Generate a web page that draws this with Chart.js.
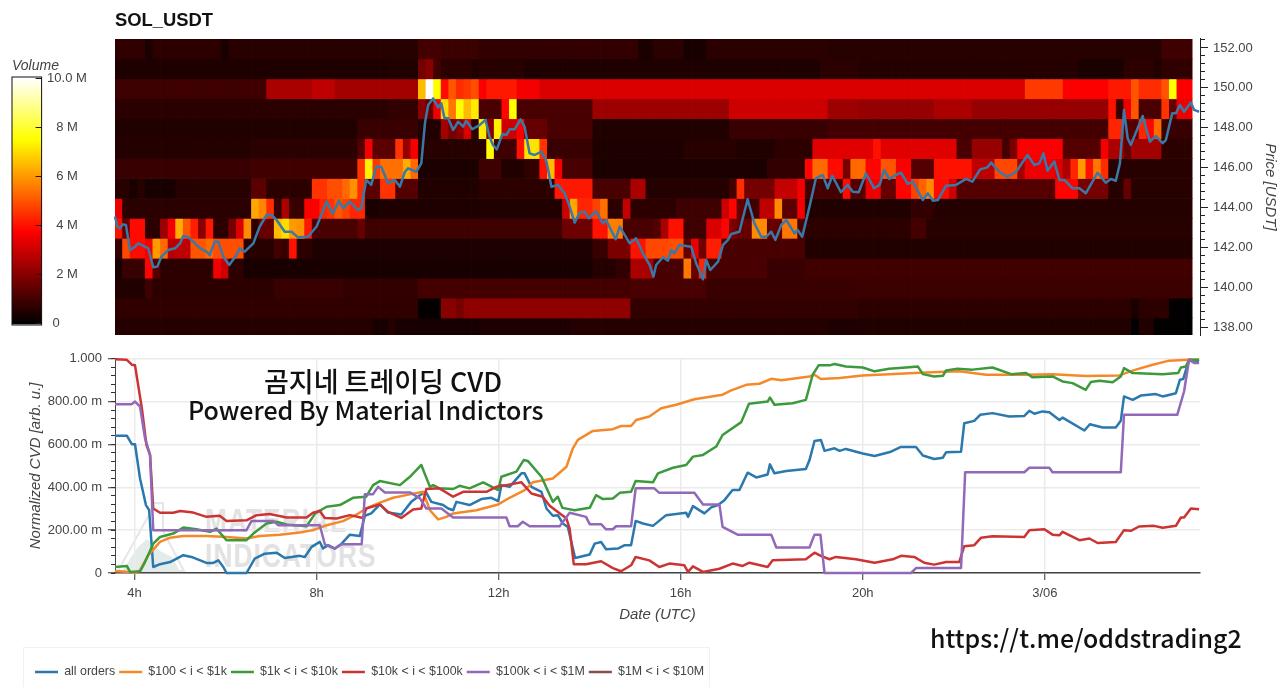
<!DOCTYPE html>
<html><head><meta charset="utf-8">
<style>
html,body{margin:0;padding:0;background:#fff;width:1280px;height:687px;overflow:hidden}
canvas{position:absolute;left:0}
.t{position:absolute;white-space:nowrap;font-family:"Noto Sans CJK KR","Noto Sans",sans-serif;color:#111;font-weight:500;line-height:1}
.wm{position:absolute;white-space:nowrap;font-family:"Liberation Sans",sans-serif;font-weight:700;color:#e2e2e2;line-height:1;letter-spacing:1.5px;transform:scaleX(.79);transform-origin:left top}
#legendBox{position:absolute;left:23px;top:647px;width:685px;height:60px;border:1px solid #f1f1f1}
</style>
<script src="https://cdn.jsdelivr.net/npm/chart.js@4"></script>
</head><body>
<svg style="position:absolute;left:110px;top:495px" width="90" height="80">
<path d="M42 8 L53 8 L53 36 L74 76 L8 76 L40 18 Z" fill="none" stroke="#e6e6e6" stroke-width="2"/>
<path d="M12 76 L28 52 L37 44 L50 56 L62 62 L70 76 Z" fill="#e4ecea"/>
</svg>
<div class="wm" style="left:205px;top:504px;font-size:33px">MATERIAL</div>
<div class="wm" style="left:205px;top:539px;font-size:33px">INDICATORS</div>
<div id="legendBox"></div>
<canvas id="heat" width="1280" height="345" style="top:0"></canvas>
<canvas id="bar" width="125" height="285" style="top:50px"></canvas>
<canvas id="cvd" width="1280" height="350" style="top:345px"></canvas>
<div class="t" style="left:264px;top:367px;font-size:27px">곰지네 트레이딩 CVD</div>
<div class="t" style="left:188px;top:397px;font-size:25px">Powered By Material Indictors</div>
<div class="t" style="left:930px;top:625px;font-size:24.9px">https://t.me/oddstrading2</div>
<script>
/* ---------- heat map: each row is [startColumn, volume in M, ...] runs of 10-minute bins ---------- */
const heat152=[0,.55,4,.2,5,.5,14,.15,15,.4,40,.9,43,.75,48,.6,69,.2,71,.45,75,.15,78,.45,94,.4,138,.8];
const heat151=[0,.25,36,.3,40,1.7,41,2,42,.9,43,.5,47,.3,48,.4,54,.25,93,.45,98,.35,127,.2,133,.5,137,.3,138,.55];
const heat150=[0,.8,20,2.5,26,2.8,29,2.4,40,6.5,41,10,42,7.5,43,3.9,44,5,45,4.4,46,4.6,47,4.9,48,3.7,49,4.1,53,3.6,56,3.2,120,4.6,125,3.7,131,4.1,134,5,135,4.4,138,5,139,7.5,140,3.7];
const heat149=[0,.45,36,.6,40,2,41,1.5,42,3.5,43,7,44,5.5,45,7.5,46,6.5,47,7.2,48,1,51,3.8,52,7.5,53,1,63,2.3,81,3,94,2.3,98,2.2,108,2.5,113,2.2,131,4,132,.7,133,3.5,134,5,135,1,138,4.5,139,1.5,140,3.5];
const heat148=[0,.3,32,.7,40,.3,43,2.4,44,1.7,45,2,46,3.2,47,.5,48,7.2,49,2,50,7.3,51,3,53,3.7,54,1.5,57,1,63,.3,81,.7,94,.9,131,4.3,133,1.2,135,4.3,136,3.8,137,5.3,138,.7];
const heat147=[0,.35,18,.45,32,1.2,33,3.6,34,1.3,37,4.5,38,2.2,39,3.6,40,.4,49,7.5,50,.8,53,4,54,7.1,56,4.5,57,.7,63,.25,75,.4,82,.3,87,.5,92,3.3,100,4,101,3.3,111,1,113,2.2,117,.9,118,1.8,119,3.7,125,1.2,130,3.6,131,2.5,133,1.5,134,2.4,138,.5];
const heat146=[0,.7,18,.85,32,4.5,33,7.3,34,4.6,35,5.4,38,6.3,39,5.3,40,.2,48,.8,51,.3,54,.6,56,4,57,6.5,58,3.6,59,1,63,.2,86,.6,91,3.8,92,5.3,94,3.9,96,1.8,97,5.3,99,3.8,101,5,103,3.7,105,1.2,108,4,113,2.8,116,4.8,119,2.4,120,3.5,124,3.2,125,2.5,126,4.3,127,6,128,4,129,5.5,130,4.4,131,.4];
const heat145=[0,.4,2,.15,3,.4,4,.15,8,.4,18,1.3,20,.5,26,4.5,28,4.9,30,5.3,31,5.9,32,4.4,33,1.3,35,4.5,37,1.2,40,.3,48,.5,58,4.1,63,1,68,2.5,70,.35,81,.9,82,4.4,83,1.7,87,2.9,90,3.6,91,.9,96,3.9,97,1.2,99,3.5,101,1.5,103,3.8,105,4.7,106,5.2,107,5.8,108,3.9,110,3,111,1.2,124,3.8,127,1.7,131,.4,133,1.5,134,.4];
const heat144=[0,3.5,1,.45,18,6.2,19,5.7,20,4.4,21,.7,22,2.5,23,.7,25,3.7,27,4.3,28,4.5,29,5,30,4.7,31,4.3,33,.2,35,.25,48,.3,59,3,60,6.2,61,4.3,63,4.7,64,5.4,65,.5,67,2.9,68,.5,74,.8,80,3,81,3.8,82,1.5,83,.8,85,2.8,87,5.8,88,1.3,90,3.6,91,.3,105,.6,108,.35];
const heat143=[0,4,1,1.5,2,3.9,4,.5,6,2.3,7,3.6,8,6.3,9,5,10,4.2,11,2,12,4.1,13,.5,15,1.7,16,3.2,17,5.8,18,.5,19,1.5,21,6.5,22,7,23,6,24,5.9,25,4.1,26,1,32,1.5,33,.8,59,1.6,63,4,65,5.6,67,1,71,1.2,72,2.5,73,4,75,.8,78,3.2,80,3.8,81,1.8,82,1.5,84,5.8,86,1.5,88,5.5,90,1,91,.5,105,.9,107,.4];
const heat142=[0,.6,1,4.8,2,3.9,4,3.6,5,6,6,5.3,7,2.7,8,2.8,10,5,12,5.3,13,4.9,17,.4,21,.9,22,.7,23,4,24,.5,26,.25,63,.7,65,1.8,68,4,70,4.8,73,4.9,75,1.4,76,3.4,77,1.6,78,4.2,80,1,91,.3];
const heat141=[0,.2,1,.7,4,3.8,5,1.2,6,.5,13,3.6,14,3,15,.5,17,.15,63,.35,66,.6,68,2.5,71,1,75,5.5,76,1.5,77,4.3,78,1,86,.7,91,.85];
const heat140=[0,.3,4,.8,5,.5,21,.7,30,.6,40,.9,68,1,78,.7,98,.75];
const heat139=[0,.55,40,.08,43,2,45,1.7,46,2.1,68,.6,98,.5,134,.15,135,.5,139,.03];
const heat138=[0,.35,34,.12,36,.35,37,.15,40,.12,48,.25,60,.35,94,.25,98,.3,134,.03,135,.3,137,.05];
const heatPrices=[152,151,150,149,148,147,146,145,144,143,142,141,140,139,138];
const heatRows=[heat152,heat151,heat150,heat149,heat148,heat147,heat146,heat145,heat144,heat143,heat142,heat141,heat140,heat139,heat138];
const heatColumns=142, heatStartHour=3.57;

/* ---------- price line (hours since 2 June 00:00 UTC, USDT) ---------- */
const priceT=[3.57,3.62,3.68,3.74,3.81,3.90,4.01,4.08,4.15,4.30,4.41,4.50,4.59,4.74,4.89,5.00,5.07,5.18,5.29,5.44,5.58,5.65,5.76,5.84,5.95,6.08,6.24,6.31,6.42,6.61,6.75,6.90,7.01,7.12,7.30,7.45,7.59,7.81,8.00,8.22,8.33,8.36,8.49,8.58,8.73,8.91,8.98,9.09,9.20,9.31,9.42,9.57,9.72,9.83,9.94,10.01,10.19,10.30,10.38,10.45,10.56,10.67,10.74,10.81,10.89,11.00,11.11,11.22,11.29,11.42,11.58,11.71,11.80,11.875,11.96,12.08,12.17,12.24,12.35,12.48,12.57,12.68,12.79,12.94,13.05,13.16,13.30,13.45,13.56,13.67,13.78,13.89,13.98,14.14,14.29,14.36,14.57,14.66,14.88,15.02,15.17,15.32,15.40,15.46,15.61,15.72,15.79,15.86,15.97,16.23,16.34,16.49,16.56,16.65,16.82,16.93,17.04,17.11,17.29,17.47,17.62,17.77,17.88,17.99,18.08,18.21,18.32,18.50,18.57,18.67,18.83,18.97,19.12,19.23,19.33,19.52,19.67,19.78,19.91,20.07,20.25,20.37,20.47,20.58,20.73,20.84,20.99,21.10,21.32,21.43,21.54,21.65,21.83,22.05,22.27,22.41,22.58,22.74,22.82,23.00,23.18,23.37,23.62,23.77,23.88,23.97,24.06,24.21,24.32,24.43,24.61,24.76,24.90,25.16,25.34,25.45,25.56,25.65,25.74,25.82,25.89,26.15,26.31,26.44,26.59,26.66,26.80,26.88,26.97,27.06,27.21,27.28,27.39];
const priceV=[143.54,143.04,142.95,143.15,143.12,141.86,142.03,142.20,142.12,141.95,141.00,141.03,141.53,141.86,141.95,142.20,142.57,142.50,142.28,141.95,141.78,141.61,142.28,142.28,141.53,141.11,141.61,141.95,141.78,142.20,143.04,143.62,143.62,143.37,142.78,142.78,142.50,142.53,143.04,144.29,143.79,143.70,144.34,143.95,144.29,143.87,143.95,145.38,145.13,146.04,146.04,145.21,145.38,145.04,145.79,145.96,145.79,146.21,148.22,149.14,149.47,149.02,149.22,148.47,148.47,147.88,148.30,148.05,148.35,147.92,148.13,148.39,147.55,147.13,146.91,147.68,147.63,147.92,147.92,148.42,148.05,146.71,146.63,146.80,146.30,145.04,145.13,144.71,144.04,143.24,143.74,143.79,143.45,143.82,143.20,143.37,142.40,143.04,142.20,142.45,141.70,141.11,140.53,141.11,141.50,141.33,141.86,141.70,142.12,142.03,141.20,140.39,141.36,140.86,141.28,142.12,142.37,142.67,142.78,144.41,143.20,142.53,142.53,142.78,142.37,143.12,143.37,142.70,142.87,142.53,144.04,145.46,145.63,144.96,145.59,144.76,145.13,144.79,144.76,145.71,144.96,145.13,145.88,145.43,145.63,145.74,145.18,145.29,144.37,144.71,144.34,144.37,145.09,145.13,145.43,145.29,145.91,146.01,146.25,145.79,145.54,145.79,146.63,146.13,146.21,146.71,145.84,146.30,145.38,145.38,144.96,144.96,144.71,145.74,145.24,145.43,145.34,146.21,148.89,147.47,147.13,148.59,147.30,147.58,147.22,147.38,148.72,148.72,149.14,148.80,149.26,148.89,148.80];

/* ---------- normalized CVD series ---------- */
const allT=[3.57,3.83,3.94,4.01,4.12,4.25,4.32,4.41,4.56,4.78,5.07,5.25,5.58,5.73,5.84,5.95,6.02,6.46,6.64,6.86,7.12,7.30,7.63,7.74,7.89,8.07,8.14,8.25,8.40,8.55,8.73,8.95,9.06,9.20,9.39,9.57,9.86,10.08,10.27,10.40,10.52,10.78,10.89,11.00,11.07,11.36,11.62,11.84,11.99,12.06,12.24,12.50,12.57,12.72,12.94,13.05,13.19,13.30,13.41,13.52,13.68,14.00,14.11,14.25,14.36,14.62,14.77,14.91,15.01,15.17,15.39,15.68,16.12,16.16,16.27,16.52,16.67,16.82,16.96,17.14,17.29,17.47,17.66,17.91,17.96,18.06,18.32,18.75,18.83,18.94,19.08,19.16,19.38,19.49,19.63,20.00,20.26,20.62,20.84,21.17,21.32,21.57,21.76,21.83,22.16,22.23,22.45,22.58,22.85,23.22,23.55,23.66,23.77,23.95,24.10,24.32,24.39,24.87,24.99,25.27,25.56,25.67,25.74,25.93,26.11,26.44,26.59,26.88,26.97,27.04,27.17,27.32,27.39];
const allV=[.641,.641,.601,.601,.441,.317,.293,.028,.041,.051,.083,.075,.047,.047,.059,.028,0,0,.067,.090,.095,.07,.08,.075,.122,.145,.114,.13,.114,.137,.179,.173,.267,.278,.32,.282,.273,.332,.363,.379,.332,.317,.301,.293,.332,.317,.345,.351,.335,.41,.402,.465,.465,.402,.379,.301,.267,.27,.231,.215,.07,.086,.137,.145,.111,.114,.13,.13,.243,.231,.22,.27,.281,.262,.312,.278,.306,.317,.34,.387,.387,.468,.446,.46,.507,.465,.476,.485,.527,.616,.621,.57,.582,.57,.579,.558,.546,.566,.588,.588,.548,.532,.538,.563,.566,.699,.71,.738,.746,.73,.733,.757,.743,.754,.75,.714,.725,.665,.694,.679,.679,.71,.824,.808,.828,.835,.824,.839,.902,.905,.995,.99,.987];
const smallT=[3.57,3.90,4.01,4.12,4.30,4.56,4.78,5.07,5.58,6.02,6.46,6.75,7.19,7.63,7.92,8.22,8.58,8.88,9.09,9.35,9.68,10.05,10.34,10.49,10.67,10.85,11.00,11.51,11.99,12.24,12.57,12.75,13.19,13.49,13.63,13.74,14.07,14.51,14.69,14.91,15.02,15.31,15.57,15.90,16.30,16.92,17.11,17.44,17.73,17.99,18.21,18.83,18.94,19.08,19.49,20.00,20.58,21.24,22.12,22.71,23.59,24.17,24.90,25.63,26.00,26.37,26.73,27.17,27.39];
const smallV=[.009,.005,0,.012,.083,.145,.165,.173,.173,.168,.161,.173,.179,.189,.2,.223,.242,.273,.301,.325,.351,.367,.379,.293,.25,.262,.278,.293,.32,.351,.387,.423,.441,.496,.582,.621,.663,.671,.686,.686,.714,.73,.769,.785,.811,.832,.852,.878,.883,.906,.899,.917,.925,.905,.91,.922,.928,.934,.941,.925,.925,.928,.919,.922,.949,.972,.991,.995,.995];
const midT=[3.57,3.83,3.90,4.12,4.23,4.41,4.56,4.85,5.07,5.36,5.66,5.80,6.02,6.46,6.61,6.90,7.12,7.34,7.78,7.97,8.22,8.51,8.80,9.09,9.24,9.39,9.83,10.05,10.30,10.49,10.56,10.70,11.00,11.14,11.36,11.66,11.99,12.06,12.39,12.55,12.64,12.94,13.19,13.30,13.40,13.67,14.00,14.14,14.29,14.51,14.66,14.91,15.01,15.39,15.50,15.83,16.12,16.27,16.49,16.78,16.92,17.33,17.50,17.91,17.96,18.06,18.46,18.75,18.90,19.03,19.27,19.38,19.63,20.00,20.26,20.58,20.95,21.21,21.32,21.57,21.76,21.83,22.08,22.41,22.85,23.26,23.59,23.73,24.17,24.39,24.61,24.90,25.01,25.20,25.49,25.67,25.74,25.93,26.59,26.93,26.99,27.10,27.17,27.39];
const midV=[.028,.033,.005,.008,.051,.137,.168,.184,.212,.204,.192,.207,.153,.153,.184,.231,.239,.226,.218,.278,.309,.317,.351,.356,.41,.429,.41,.449,.504,.402,.41,.395,.392,.407,.395,.423,.387,.449,.473,.527,.523,.449,.332,.356,.304,.293,.304,.363,.345,.348,.374,.379,.429,.423,.465,.491,.504,.543,.551,.59,.644,.704,.79,.8,.819,.785,.792,.808,.925,.969,.969,.975,.964,.959,.941,.953,.959,.964,.928,.917,.92,.945,.953,.949,.959,.928,.933,.913,.917,.894,.886,.855,.891,.897,.89,.917,.956,.933,.928,.933,.959,.964,.995,.995];
const largeT=[3.57,3.83,3.94,4.01,4.16,4.26,4.34,4.41,4.56,4.85,5.00,5.29,5.58,5.87,6.02,6.46,6.68,6.97,7.34,7.78,7.92,8.07,8.18,8.44,8.73,9.02,9.09,9.39,9.57,9.86,10.12,10.30,10.41,10.70,11.00,11.22,11.73,11.95,12.17,12.50,12.72,12.97,13.12,13.49,13.56,13.65,13.92,14.25,14.51,14.69,14.91,15.01,15.31,15.53,15.75,16.08,16.16,16.27,16.49,16.85,17.14,17.36,17.51,17.91,18.02,18.75,18.94,19.08,19.27,19.41,19.85,20.26,20.66,20.84,21.13,21.35,21.57,21.83,22.12,22.23,22.45,22.60,22.85,23.55,23.66,23.99,24.17,24.32,24.39,24.76,24.98,25.16,25.56,25.74,25.89,26.07,26.40,26.59,26.88,26.99,27.06,27.21,27.39];
const largeV=[.998,.995,.972,.969,.769,.598,.551,.301,.281,.281,.289,.282,.262,.267,.243,.246,.27,.275,.259,.259,.281,.289,.257,.254,.27,.257,.301,.32,.285,.257,.296,.301,.392,.395,.356,.379,.379,.402,.41,.423,.371,.356,.314,.254,.207,.041,.041,.055,.023,.008,.036,.075,.059,.028,.044,.036,.005,.031,.005,.02,.044,.033,.048,.028,.059,.064,.095,.08,.064,.075,.064,.048,.064,.08,.075,.048,.039,.051,.051,.125,.13,.165,.172,.168,.2,.204,.179,.176,.192,.153,.161,.14,.145,.2,.197,.217,.22,.211,.22,.259,.259,.301,.298];
const whaleT=[3.57,3.94,4.01,4.12,4.23,4.34,4.41,6.46,6.57,7.05,7.16,8.07,8.18,8.40,8.55,8.99,9.06,9.24,9.35,9.50,10.05,10.27,10.41,10.74,11.00,12.17,12.24,12.42,12.53,12.68,13.34,13.56,13.92,14.00,14.25,14.36,14.51,14.58,14.91,15.01,15.42,15.53,16.30,16.49,16.85,16.92,17.25,17.99,18.10,18.83,18.94,19.07,19.16,21.06,21.17,22.16,22.25,23.55,23.66,24.10,24.17,25.67,25.74,26.91,27.06,27.17,27.28,27.39];
const whaleV=[.788,.788,.8,.777,.629,.551,.2,.2,.243,.243,.223,.223,.134,.114,.134,.134,.368,.368,.402,.376,.376,.348,.301,.301,.259,.259,.218,.218,.239,.218,.218,.281,.262,.228,.228,.204,.204,.218,.218,.395,.395,.374,.374,.32,.32,.215,.179,.179,.119,.119,.179,.179,0,0,.023,.023,.47,.47,.491,.491,.47,.47,.738,.738,.847,.995,.98,.98];
const hugeT=[], hugeV=[];

const seriesNames=['all orders','$100 < i < $1k','$1k < i < $10k','$10k < i < $100k','$100k < i < $1M','$1M < i < $10M'];
const seriesColors=['#2a78ad','#f5892a','#3c9a3c','#cc3333','#9169b8','#85504a'];
const seriesT=[allT,smallT,midT,largeT,whaleT,hugeT];
const seriesV=[allV,smallV,midV,largeV,whaleV,hugeV];

/* ---------- axes ---------- */
const timeTicks=[4,8,12,16,20,24];
const timeLabels=['4h','8h','12h','16h','20h','3/06'];
const priceTicks=[138,140,142,144,146,148,150,152];
const priceMinorTicks=[138,138.4,138.8,139.2,139.6,140,140.4,140.8,141.2,141.6,142,142.4,142.8,143.2,143.6,144,144.4,144.8,145.2,145.6,146,146.4,146.8,147.2,147.6,148,148.4,148.8,149.2,149.6,150,150.4,150.8,151.2,151.6,152,152.4];
const cvdTicks=[0,.2,.4,.6,.8,1];
const cvdLabels=['0','200.00 m','400.00 m','600.00 m','800.00 m','1.000'];
const cvdMinorTicks=[.04,.08,.12,.16,.2,.24,.28,.32,.36,.4,.44,.48,.52,.56,.6,.64,.68,.72,.76,.8,.84,.88,.92,.96,1,0];
const volumeTicks=[0,2,4,6,8,10];
const volumeLabels=['0      ','2 M','4 M','6 M','8 M','10.0 M'];

const X_MIN=3.57, X_MAX=27.41, TXT='#444', FONT='"Liberation Sans", Arial, sans-serif';
Chart.defaults.font.family=FONT;
Chart.defaults.animation=false;
Chart.defaults.color=TXT;

function hot(v){const t=Math.max(0,Math.min(1,v/10));
  const c=x=>Math.round(255*Math.max(0,Math.min(1,x)));
  return `rgb(${c(t/.375)},${c((t-.375)/.375)},${c((t-.75)/.25)})`;}
/* the low end of the reference cells renders a little lighter than the bar */
const cellColor=v=>hot(v>=.1&&v<1.5?v+.22*(1.5-v)/1.4:v);
function expandRuns(r){const out=[];for(let i=0;i<r.length;i+=2){const end=i+2<r.length?r[i+2]:heatColumns;for(let c=r[i];c<end;c++)out.push(r[i+1]);}return out;}
const setTicks=list=>s=>{s.ticks=list.map(v=>({value:v}));};
const zip=(t,v)=>t.map((x,i)=>({x,y:v[i]}));

/* ---------- top: volume heat map + price ---------- */
const heatSets=heatRows.map((r,k)=>{
  const vals=expandRuns(r),p=heatPrices[k];
  return {type:'bar',yAxisID:'y',xAxisID:'x',grouped:false,order:2,barThickness:7.7,borderWidth:0,
    data:vals.map((v,i)=>({x:heatStartHour+(i+.5)/6,y:[p-.55,p+.45]})),
    backgroundColor:vals.map(cellColor)};
});
new Chart(document.getElementById('heat'),{
  data:{datasets:[...heatSets,{type:'line',order:1,data:zip(priceT,priceV),borderColor:'#3a78a8',borderWidth:2.5,pointRadius:0,tension:0,borderJoinStyle:'round',clip:false}]},
  options:{responsive:false,devicePixelRatio:1,
    layout:{padding:{left:115,right:0,top:0,bottom:10}},
    plugins:{legend:{display:false},tooltip:{enabled:false},
      title:{display:true,text:'SOL_USDT',align:'start',fullSize:true,color:'#111',font:{size:18.4,weight:'bold',lineHeight:1.2},padding:{top:10,bottom:6.9}}},
    scales:{
      x:{type:'linear',min:X_MIN,max:X_MAX,display:false,offset:false,grid:{offset:false}},
      yMinor:{type:'linear',position:'right',min:137.6,max:152.45,weight:0,afterFit:s=>{s.width=0;s.paddingTop=0;s.paddingBottom=0;},afterBuildTicks:setTicks(priceMinorTicks),
        ticks:{display:false,autoSkip:false},grid:{drawOnChartArea:false,tickLength:5,tickColor:'#222'},border:{display:false}},
      y:{type:'linear',position:'right',min:137.6,max:152.45,weight:1,afterFit:s=>{s.width=80;s.paddingTop=0;s.paddingBottom=0;},afterBuildTicks:setTicks(priceTicks),
        ticks:{autoSkip:false,padding:5,color:TXT,font:{size:13},callback:v=>v.toFixed(2)},
        grid:{drawOnChartArea:false,tickLength:8,tickColor:'#222'},border:{display:true,color:'#222',width:1},
        title:{display:true,text:'Price [USDT]',color:TXT,font:{size:15,style:'italic',lineHeight:1.2},padding:{top:1,bottom:0}}}
    }}
});

/* ---------- left: colour bar ---------- */
const levels=[];for(let i=0;i<120;i++)levels.push(i/12);
new Chart(document.getElementById('bar'),{
  type:'bar',
  data:{labels:['Volume'],datasets:levels.map(v=>({data:[[v-.01,v+1/12+.01]],backgroundColor:hot(v+1/24),borderWidth:0,grouped:false,barPercentage:1,categoryPercentage:1}))},
  options:{responsive:false,devicePixelRatio:1,
    layout:{padding:{left:12,right:0,top:0,bottom:10}},
    plugins:{legend:{display:false},tooltip:{enabled:false},
      title:{display:true,text:'Volume',align:'start',fullSize:true,color:TXT,font:{size:14,style:'italic',weight:'normal',lineHeight:1.2},padding:{top:7.6,bottom:2.6}}},
    scales:{
      x:{display:false},
      y:{position:'right',min:-.05,max:10.07,afterFit:s=>{s.width=83.4;s.paddingTop=0;s.paddingBottom=0;},afterBuildTicks:setTicks(volumeTicks),
        ticks:{autoSkip:false,crossAlign:'center',padding:11.5,color:TXT,font:{size:13},callback:(v,i)=>volumeLabels[i]},
        grid:{z:1,drawOnChartArea:false,tickLength:-6,tickColor:'#301010'},border:{display:false}}
    }},
  plugins:[{id:'outline',afterDraw(c){const a=c.chartArea,x=c.ctx;x.save();x.strokeStyle='#111';x.lineWidth=1;x.strokeRect(a.left,a.top,a.right-a.left,a.bottom-a.top);x.restore();}}]
});

/* ---------- bottom: normalized CVD ---------- */
new Chart(document.getElementById('cvd'),{
  type:'line',
  data:{datasets:seriesNames.map((n,i)=>({label:n,data:zip(seriesT[i],seriesV[i]),order:6-i,borderColor:seriesColors[i],backgroundColor:seriesColors[i],borderWidth:2.5,pointRadius:0,tension:0,borderJoinStyle:'round',clip:false}))},
  options:{responsive:false,devicePixelRatio:1,
    layout:{padding:{left:31,right:80,top:13.7,bottom:6.8}},
    plugins:{tooltip:{enabled:false},
      legend:{position:'bottom',align:'start',labels:{boxWidth:23,boxHeight:2.5,padding:4,color:TXT,font:{size:12.4},
        sort:(a,b)=>a.datasetIndex-b.datasetIndex,
        generateLabels:c=>Chart.defaults.plugins.legend.labels.generateLabels(c).map(l=>({...l,lineWidth:0}))}}},
    scales:{
      x:{type:'linear',min:X_MIN,max:X_MAX,afterFit:s=>{s.height=88.8;},afterBuildTicks:setTicks(timeTicks),
        ticks:{autoSkip:false,maxRotation:0,padding:6,color:TXT,font:{size:13},callback:(v,i)=>timeLabels[i]},
        grid:{color:'#ebebeb',lineWidth:1.5,tickColor:'#333',tickLength:7,tickWidth:1},border:{display:true,color:'#444',width:1.5},
        title:{display:true,text:'Date (UTC)',color:TXT,font:{size:15,style:'italic',lineHeight:1.2},padding:{top:0,bottom:38}}},
      yMinor:{type:'linear',position:'left',min:0,max:1,weight:0,afterFit:s=>{s.width=0;s.paddingTop=0;s.paddingBottom=0;},afterBuildTicks:setTicks(cvdMinorTicks),
        ticks:{display:false,autoSkip:false},grid:{drawOnChartArea:false,tickLength:4,tickColor:'#333'},border:{display:false}},
      y:{type:'linear',position:'left',min:0,max:1,weight:1,afterFit:s=>{s.width=84;s.paddingTop=0;s.paddingBottom=0;},afterBuildTicks:setTicks(cvdTicks),
        ticks:{autoSkip:false,padding:6,color:TXT,font:{size:13},callback:(v,i)=>cvdLabels[i]},
        grid:{color:'#ebebeb',lineWidth:1.5,tickColor:'#333',tickLength:7,tickWidth:1},border:{display:true,color:'#444',width:1},
        title:{display:true,text:'Normalized CVD [arb. u.]',color:TXT,font:{size:15,style:'italic',lineHeight:1.2},padding:{top:-4,bottom:0}}}
    }}
});
</script>
</body></html>
